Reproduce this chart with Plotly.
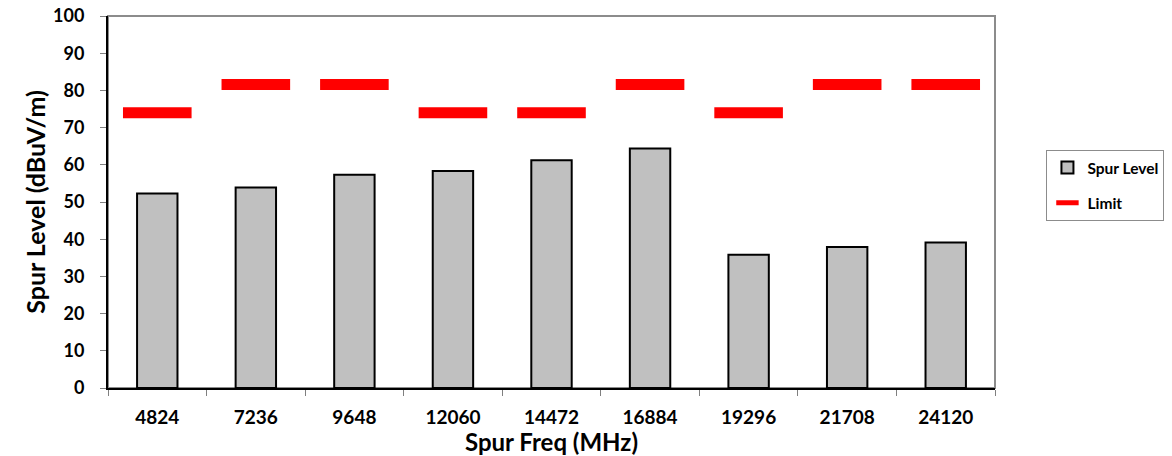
import plotly.graph_objects as go

categories = ["4824", "7236", "9648", "12060", "14472", "16884", "19296", "21708", "24120"]
spur_level = [52.3, 53.9, 57.3, 58.3, 61.2, 64.4, 35.8, 37.9, 39.1]
limit = [74, 81.6, 81.6, 74, 74, 81.6, 74, 81.6, 81.6]

FONT = "Lato"

fig = go.Figure()
fig.add_trace(go.Bar(
    x=categories, y=spur_level, name="Spur Level", width=0.41,
    marker=dict(color="#c0c0c0", line=dict(color="black", width=2)),
    legendgroup="a",
))
fig.add_trace(go.Scatter(
    x=categories, y=limit, name="Limit", mode="markers",
    marker=dict(symbol="line-ew", size=49, color="#ff0000",
                line=dict(color="#ff0000", width=11)),
    legendgroup="b",
))

fig.update_layout(
    width=1164, height=448,
    margin=dict(l=100, r=164, t=8, b=68),
    paper_bgcolor="white", plot_bgcolor="white",
    font=dict(family=FONT, color="black", size=19),
    showlegend=True,
    legend=dict(
        x=1.058, y=0.64, xanchor="left", yanchor="top",
        bordercolor="#8c8c8c", borderwidth=1,
        font=dict(family=FONT, size=15.5, color="black", weight="bold"),
        tracegroupgap=12,
        itemwidth=30,
    ),
    xaxis=dict(
        type="category", showgrid=False, automargin=False,
        range=[-0.5, 8.5],
        showline=True, linecolor="black", linewidth=2,
        ticks="outside", ticklen=6, tickcolor="#808080", tickson="boundaries",
        tickfont=dict(family=FONT, size=19, weight="bold"),
        ticklabelstandoff=11, ticklabeloverflow="allow",
        title=dict(text="Spur Freq (MHz)", font=dict(family=FONT, size=24, weight="bold"), standoff=0),
    ),
    yaxis=dict(
        range=[0, 100], dtick=10, showgrid=False, zeroline=False, automargin=False,
        showline=True, linecolor="black", linewidth=2,
        ticks="outside", ticklen=6, tickcolor="#808080",
        tickfont=dict(family=FONT, size=18, weight="bold"),
        ticklabelstandoff=12, ticklabeloverflow="allow",
        title=dict(text="Spur Level (dBuV/m)", font=dict(family=FONT, size=25, weight="bold"), standoff=0),
    ),
    shapes=[dict(type="rect", xref="paper", yref="paper", x0=0, x1=1, y0=0, y1=1,
                 line=dict(color="#8c8c8c", width=2), layer="below")],
)

fig.write_html(
    "out.html",
    config={"displayModeBar": False},
    post_script="document.querySelectorAll('.main-svg').forEach(s => s.style.overflow = 'visible');",
)
